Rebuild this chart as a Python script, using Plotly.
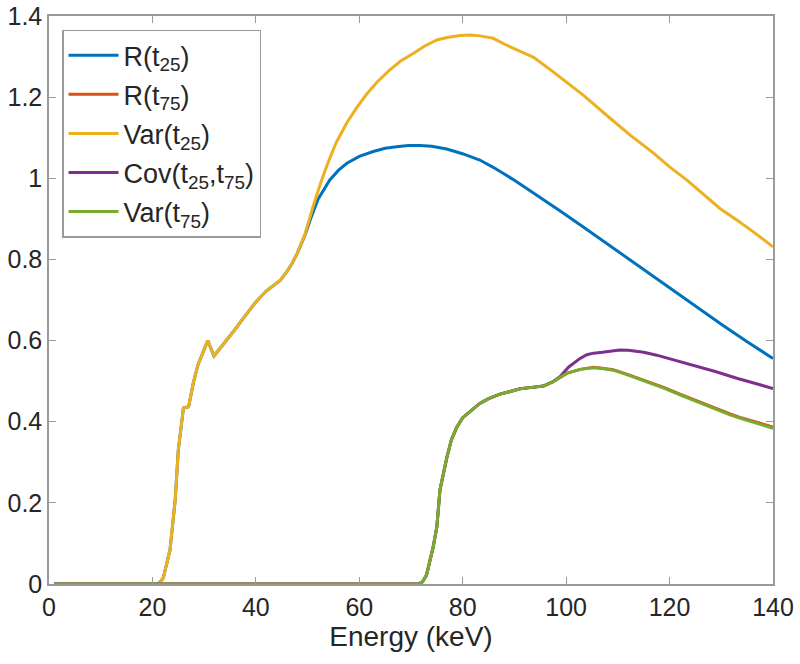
import plotly.graph_objects as go

# Var(t25) and R(t25) share the low-energy part
e_low = [1, 21, 21.5, 22.1, 23.4, 24.4, 25.0, 25.7, 26.0, 27.0, 27.9, 28.8, 30.0, 30.7, 31.9,
         34, 36, 38, 40, 42, 44.7, 46, 47, 48]
v_low = [0, 0, 0.005, 0.015, 0.084, 0.207, 0.33, 0.41, 0.434, 0.437, 0.495, 0.54, 0.575, 0.60, 0.562,
         0.595, 0.628, 0.662, 0.695, 0.722, 0.748, 0.77, 0.79, 0.815]

e_var25_hi = [49.5, 51, 52.5, 54, 55.5, 57.6, 59.5, 61.4, 63.5, 65.9, 68, 70.5, 72.5, 75, 77, 79.5,
              81.5, 83.3, 85.9, 88.5, 91, 93.7, 96.5, 99.5, 103.3, 108.5, 112.5, 116.9, 120, 123.3,
              126.5, 129.8, 133, 136.2, 140]
v_var25_hi = [0.862, 0.928, 0.987, 1.04, 1.087, 1.137, 1.174, 1.207, 1.238, 1.267, 1.289, 1.308,
              1.325, 1.341, 1.347, 1.352, 1.353, 1.351, 1.345, 1.328, 1.313, 1.298, 1.272, 1.242,
              1.205, 1.148, 1.105, 1.062, 1.028, 0.996, 0.960, 0.925, 0.897, 0.868, 0.831]

e_r25_hi = [49.5, 50.5, 52, 54.3, 56, 57.6, 60, 62.7, 65, 67.2, 69.5, 71.7, 74, 76.9, 80.1, 83.3,
            85.9, 90, 94.3, 99, 104, 110, 115, 120, 125, 130, 135, 140]
v_r25_hi = [0.86, 0.897, 0.948, 0.996, 1.02, 1.037, 1.054, 1.066, 1.074, 1.078, 1.081, 1.081,
            1.079, 1.072, 1.060, 1.045, 1.027, 0.995, 0.959, 0.918, 0.874, 0.820, 0.773, 0.728,
            0.683, 0.640, 0.597, 0.556]

e_var75 = [1, 71.4, 72.2, 73.0, 74.3, 75.0, 75.6, 76.9, 77.8, 78.8, 80, 82.1, 83.3, 85, 87.2, 89,
           91.1, 93, 95.6, 97.5, 100.1, 102.7, 105.3, 107, 109.1, 112, 115.6, 119, 122, 125.3,
           128, 131.7, 134, 137, 140]
v_var75 = [0, 0, 0.005, 0.022, 0.092, 0.141, 0.232, 0.31, 0.355, 0.385, 0.41, 0.432, 0.445,
           0.457, 0.468, 0.474, 0.481, 0.484, 0.488, 0.499, 0.519, 0.529, 0.533, 0.531, 0.527,
           0.515, 0.499, 0.482, 0.466, 0.449, 0.436, 0.417, 0.407, 0.395, 0.384]
v_r75 = [0, 0, 0.005, 0.022, 0.092, 0.141, 0.232, 0.31, 0.355, 0.385, 0.41, 0.432, 0.445,
         0.457, 0.468, 0.474, 0.481, 0.484, 0.488, 0.499, 0.519, 0.529, 0.534, 0.532, 0.528,
         0.516, 0.500, 0.484, 0.468, 0.451, 0.438, 0.419, 0.409, 0.398, 0.387]

e_cov_hi = [98.8, 100.5, 102.7, 104, 105.3, 107, 110.4, 112, 115, 117.5, 121, 125.3, 129, 133,
            136, 140]
v_cov_hi = [0.511, 0.535, 0.556, 0.565, 0.569, 0.571, 0.577, 0.576, 0.571, 0.564, 0.552, 0.536,
            0.523, 0.507, 0.497, 0.482]

n_cov_low = 20  # Cov follows Var(t75) up to 97.5 keV
e_cov = e_var75[:n_cov_low] + e_cov_hi
v_cov = v_var75[:n_cov_low] + v_cov_hi

series = [
    ("R(t<sub>25</sub>)", e_low + e_r25_hi, v_low + v_r25_hi, "#0072BD"),
    ("R(t<sub>75</sub>)", e_var75, v_r75, "#D95319"),
    ("Var(t<sub>25</sub>)", e_low + e_var25_hi, v_low + v_var25_hi, "#EDB120"),
    ("Cov(t<sub>25</sub>,t<sub>75</sub>)", e_cov, v_cov, "#7E2F8E"),
    ("Var(t<sub>75</sub>)", e_var75, v_var75, "#77AC30"),
]

x_ticks = [0, 20, 40, 60, 80, 100, 120, 140]
y_ticks = [0, 0.2, 0.4, 0.6, 0.8, 1.0, 1.2, 1.4]
y_labels = ["0", "0.2", "0.4", "0.6", "0.8", "1", "1.2", "1.4"]

FONT = "Liberation Sans, Arial, sans-serif"

fig = go.Figure()
for i, (name, xs, ys, col) in enumerate(series):
    fig.add_trace(go.Scatter(x=xs, y=ys, mode="lines", name=name, legendgroup=f"g{i}",
                             line=dict(color=col, width=3)))

axis_common = dict(showline=True, linecolor="#9a9a9a", linewidth=1.5, mirror="allticks",
                   ticks="inside", ticklen=7, tickcolor="#9a9a9a", tickwidth=1,
                   showgrid=False, zeroline=False, automargin=False,
                   tickfont=dict(family=FONT, size=25, color="#262626"))

fig.update_layout(
    width=800, height=664,
    margin=dict(l=49, r=27, t=16, b=80),
    paper_bgcolor="white", plot_bgcolor="white",
    font=dict(family=FONT, size=25, color="#262626"),
    xaxis=dict(range=[0, 140], tickvals=x_ticks,
               title=dict(text="Energy (keV)", font=dict(size=28), standoff=4), **axis_common),
    yaxis=dict(range=[0, 1.4], tickvals=y_ticks, ticktext=y_labels, **axis_common),
    legend=dict(x=0.018, y=0.976, xanchor="left", yanchor="top",
                bgcolor="white", bordercolor="#9a9a9a", borderwidth=1.5,
                font=dict(size=27, color="#262626"), itemwidth=50, tracegroupgap=1),
    showlegend=True,
)

fig.write_html("out.html", config={"displayModeBar": False},
               post_script="document.body.style.margin='0';")
